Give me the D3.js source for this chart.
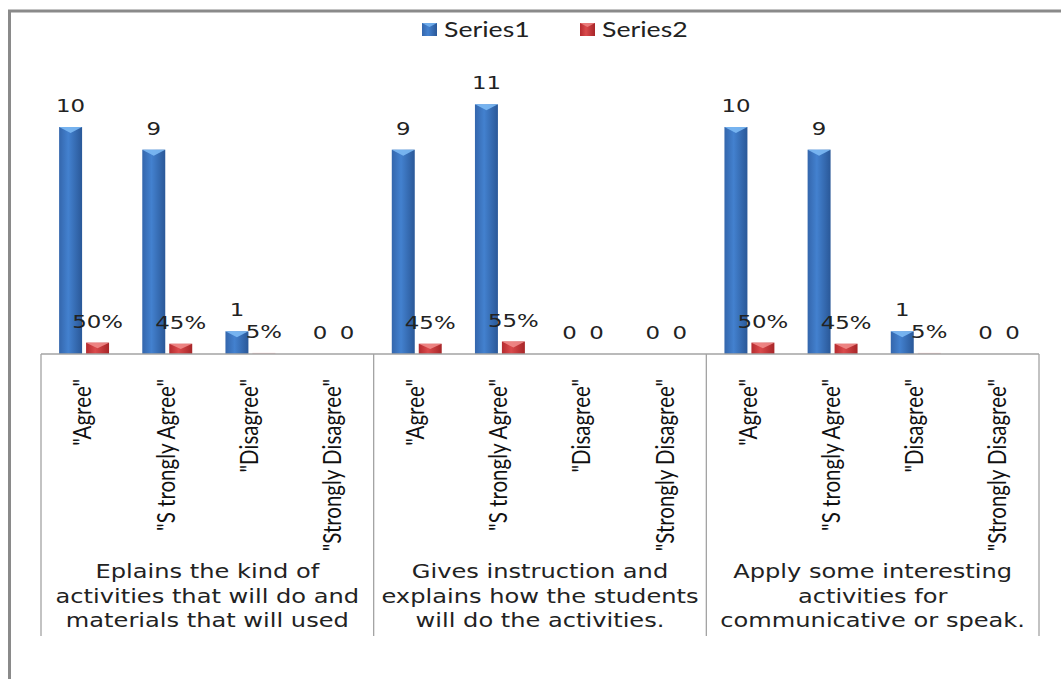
<!DOCTYPE html>
<html>
<head>
<meta charset="utf-8">
<script src="https://cdn.jsdelivr.net/npm/d3@7"></script>
<style>
  html, body { margin: 0; padding: 0; background: #ffffff; }
  svg { display: block; }
</style>
</head>
<body>
<svg id="chart" width="1061" height="679"></svg>
<script>
// Survey responses, three statements with four answer options each
const responses = ['"Agree"', '"S trongly Agree"', '"Disagree"', '"Strongly Disagree"'];
const groupLines = [
  ["Eplains the kind of", "activities that will do and", "materials that will used"],
  ["Gives instruction and", "explains how the students", "will do the activities."],
  ["Apply some interesting", "activities for", "communicative or speak."]
];
const seriesNames = ["Series1", "Series2"];
// Series1: answer counts; Series2: share of respondents
const series1 = [10, 9, 1, 0, 9, 11, 0, 0, 10, 9, 1, 0];
const series2 = [0.50, 0.45, 0.05, 0, 0.45, 0.55, 0, 0, 0.50, 0.45, 0.05, 0];
const yMax = 12;

const svg = d3.select("#chart");
const SX = 1.27; // horizontal text stretch

const left = 41, right = 1039, baseY = 354, topY = 81.6, boxBottom = 636;

const cats = [];
groupLines.forEach((g, gi) => responses.forEach((r, ri) => cats.push(gi * responses.length + ri)));

const x0 = d3.scaleBand().domain(cats).range([left, right]).padding(0);
const xg = d3.scaleBand().domain(d3.range(groupLines.length)).range([left, right]).padding(0);
const x1 = d3.scaleBand().domain([0, 1]).range([1.5, x0.bandwidth() + 1.5])
  .paddingInner(0.148).paddingOuter(0.616);
const y = d3.scaleLinear().domain([0, yMax]).range([baseY, topY]);

// Gradients
const defs = svg.append("defs");
function hGrad(id, stops) {
  const g = defs.append("linearGradient").attr("id", id)
    .attr("x1", "0%").attr("x2", "100%").attr("y1", "0%").attr("y2", "0%");
  stops.forEach(s => g.append("stop").attr("offset", s[0]).attr("stop-color", s[1]));
}
hGrad("gBlue", [["0%", "#3466ac"], ["40%", "#4381cf"], ["100%", "#2a5898"]]);
hGrad("gRed", [["0%", "#b52a2e"], ["40%", "#da4a4c"], ["100%", "#a72528"]]);

const colors = [{ fill: "url(#gBlue)", bevel: "#7cb9f4" },
                { fill: "url(#gRed)", bevel: "#f08a88" }];

// Outer frame
svg.append("line").attr("x1", 9.5).attr("x2", 9.5).attr("y1", 10).attr("y2", 679)
  .attr("stroke", "#8a8a8a").attr("stroke-width", 3);
svg.append("line").attr("x1", 8).attr("x2", 1061).attr("y1", 11).attr("y2", 11)
  .attr("stroke", "#8a8a8a").attr("stroke-width", 3);

// Bars
const data = [];
cats.forEach(c => {
  data.push({ c, s: 0, v: series1[c], label: String(series1[c]) });
  data.push({ c, s: 1, v: series2[c], label: series2[c] === 0 ? "0" : d3.format(".0%")(series2[c]) });
});

const bars = svg.append("g");
data.forEach(d => {
  if (d.v <= 0) return;
  const bx = x0(d.c) + x1(d.s), bw = x1.bandwidth();
  const ty = y(d.v), h = y(0) - y(d.v);
  const r = bars.append("rect").attr("x", bx).attr("y", ty).attr("width", bw).attr("height", h)
    .attr("fill", colors[d.s].fill);
  if (h > 4) {
    const bh = Math.min(6, h / 2);
    bars.append("path")
      .attr("d", `M${bx},${ty} L${bx + bw},${ty} L${bx + bw / 2},${ty + bh} Z`)
      .attr("fill", colors[d.s].bevel).attr("opacity", 0.9);
  } else {
    r.attr("fill", d.s ? "#f2c9c9" : "#9ec3ee");
  }
});

// Category box
const axisG = svg.append("g").attr("stroke", "#a3a3a3").attr("stroke-width", 1.3).attr("fill", "none");
axisG.append("line").attr("x1", left).attr("x2", right).attr("y1", baseY).attr("y2", baseY);
d3.range(groupLines.length + 1).forEach(i => {
  const gx = i < groupLines.length ? xg(i) : right;
  axisG.append("line").attr("x1", gx).attr("x2", gx).attr("y1", baseY).attr("y2", boxBottom);
});

// Value labels
const lab = svg.append("g").attr("font-family", "'DejaVu Sans', Verdana, sans-serif")
  .attr("font-size", 18).attr("fill", "#222").attr("text-anchor", "middle");
data.forEach(d => {
  const cx = x0(d.c) + x1(d.s) + x1.bandwidth() / 2;
  lab.append("text").attr("transform", `translate(${cx},${y(d.v) - 15}) scale(${SX},1)`)
    .text(d.label);
});

// Rotated answer labels
const rot = svg.append("g").attr("font-family", "Lato, 'Open Sans', sans-serif")
  .attr("font-size", 20.5).attr("fill", "#111").attr("text-anchor", "end");
cats.forEach(c => {
  const cx = x0(c) + x0.bandwidth() / 2;
  rot.append("text").attr("transform", `translate(${cx},379) scale(1.2,1) rotate(-90)`)
    .attr("dy", "0.36em")
    .text(responses[c % responses.length]);
});

// Statement labels
const gl = svg.append("g").attr("font-family", "'DejaVu Sans', Verdana, sans-serif")
  .attr("font-size", 19).attr("fill", "#222").attr("text-anchor", "middle");
groupLines.forEach((lines, gi) => {
  const cx = xg(gi) + xg.bandwidth() / 2;
  lines.forEach((t, li) => {
    gl.append("text").attr("transform", `translate(${cx},${578 + li * 24.5}) scale(${SX},1)`).text(t);
  });
});

// Legend
const legendX = [422, 580];
const lg = svg.append("g");
seriesNames.forEach((n, i) => {
  lg.append("rect").attr("x", legendX[i]).attr("y", 23).attr("width", 15).attr("height", 13)
    .attr("fill", colors[i].fill);
  lg.append("path")
    .attr("d", `M${legendX[i]},23 L${legendX[i] + 15},23 L${legendX[i] + 7.5},27 Z`)
    .attr("fill", colors[i].bevel).attr("opacity", 0.8);
  lg.append("text").attr("transform", `translate(${legendX[i] + 22},37) scale(${SX},1)`)
    .attr("font-family", "Lato, 'Open Sans', sans-serif").attr("font-size", 21).attr("fill", "#222")
    .text(n);
});
</script>
</body>
</html>
